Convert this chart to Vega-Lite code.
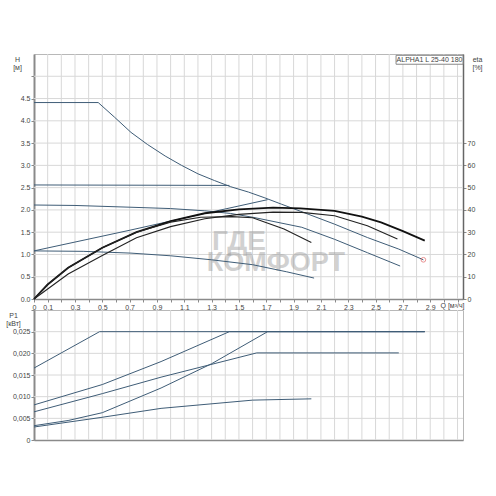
{
  "$schema": "https://vega.github.io/schema/vega-lite/v6.json",
  "padding": {"left": 5, "top": 53, "right": 0, "bottom": 0},
  "background": "white",
  "spacing": 11,
  "bounds": "flush",
  "config": {
    "view": {"stroke": "#b8b8b8"},
    "axis": {"grid": false, "labelOverlap": false, "labelFlush": false, "labelFont": "Liberation Sans", "labelFontSize": 7, "labelColor": "#444", "titleFont": "Liberation Sans", "titleFontSize": 7, "titleFontWeight": "normal", "titleColor": "#444", "domainColor": "#8a8a8a", "tickColor": "#8a8a8a", "tickSize": 3, "labelPadding": 1}
  },
  "datasets": {
    "gridQ": [{"Q": 0.1}, {"Q": 0.2}, {"Q": 0.3}, {"Q": 0.4}, {"Q": 0.5}, {"Q": 0.6}, {"Q": 0.7}, {"Q": 0.8}, {"Q": 0.9}, {"Q": 1.0}, {"Q": 1.1}, {"Q": 1.2}, {"Q": 1.3}, {"Q": 1.4}, {"Q": 1.5}, {"Q": 1.6}, {"Q": 1.7}, {"Q": 1.8}, {"Q": 1.9}, {"Q": 2.0}, {"Q": 2.1}, {"Q": 2.2}, {"Q": 2.3}, {"Q": 2.4}, {"Q": 2.5}, {"Q": 2.6}, {"Q": 2.7}, {"Q": 2.8}, {"Q": 2.9}, {"Q": 3.0}, {"Q": 3.1}],
    "gridH": [{"H": 0.5}, {"H": 1.0}, {"H": 1.5}, {"H": 2.0}, {"H": 2.5}, {"H": 3.0}, {"H": 3.5}, {"H": 4.0}, {"H": 4.5}, {"H": 5.0}],
    "gridP": [{"P": 0.005}, {"P": 0.01}, {"P": 0.015}, {"P": 0.02}, {"P": 0.025}],
    "H": [
      {"curve": "max", "Q": 0, "H": 4.41}, {"curve": "max", "Q": 0.47, "H": 4.41}, {"curve": "max", "Q": 0.59, "H": 4.08}, {"curve": "max", "Q": 0.71, "H": 3.74}, {"curve": "max", "Q": 0.83, "H": 3.47}, {"curve": "max", "Q": 0.96, "H": 3.21}, {"curve": "max", "Q": 1.08, "H": 3.0}, {"curve": "max", "Q": 1.2, "H": 2.81}, {"curve": "max", "Q": 1.32, "H": 2.66}, {"curve": "max", "Q": 1.44, "H": 2.52}, {"curve": "max", "Q": 1.57, "H": 2.4}, {"curve": "max", "Q": 1.69, "H": 2.27}, {"curve": "max", "Q": 1.81, "H": 2.13}, {"curve": "max", "Q": 1.95, "H": 1.97}, {"curve": "max", "Q": 2.2, "H": 1.68}, {"curve": "max", "Q": 2.44, "H": 1.38}, {"curve": "max", "Q": 2.67, "H": 1.12}, {"curve": "max", "Q": 2.85, "H": 0.88},
      {"curve": "cp", "Q": 0, "H": 2.56}, {"curve": "cp", "Q": 1.43, "H": 2.55},
      {"curve": "II", "Q": 0, "H": 2.11}, {"curve": "II", "Q": 0.3, "H": 2.1}, {"curve": "II", "Q": 0.71, "H": 2.06}, {"curve": "II", "Q": 1.0, "H": 2.03}, {"curve": "II", "Q": 1.25, "H": 1.98}, {"curve": "II", "Q": 1.44, "H": 1.92}, {"curve": "II", "Q": 1.61, "H": 1.83}, {"curve": "II", "Q": 1.96, "H": 1.61}, {"curve": "II", "Q": 2.2, "H": 1.34}, {"curve": "II", "Q": 2.44, "H": 1.04}, {"curve": "II", "Q": 2.68, "H": 0.74},
      {"curve": "pp", "Q": 0, "H": 1.08}, {"curve": "pp", "Q": 0.71, "H": 1.55}, {"curve": "pp", "Q": 1.22, "H": 1.9}, {"curve": "pp", "Q": 1.71, "H": 2.23},
      {"curve": "I", "Q": 0, "H": 1.08}, {"curve": "I", "Q": 0.36, "H": 1.07}, {"curve": "I", "Q": 0.71, "H": 1.03}, {"curve": "I", "Q": 1.0, "H": 0.97}, {"curve": "I", "Q": 1.3, "H": 0.88}, {"curve": "I", "Q": 1.6, "H": 0.77}, {"curve": "I", "Q": 1.85, "H": 0.61}, {"curve": "I", "Q": 2.05, "H": 0.47}
    ],
    "eta": [
      {"curve": "III", "Q": 0, "eta": 0}, {"curve": "III", "Q": 0.1, "eta": 6.5}, {"curve": "III", "Q": 0.25, "eta": 14}, {"curve": "III", "Q": 0.5, "eta": 23}, {"curve": "III", "Q": 0.75, "eta": 30}, {"curve": "III", "Q": 1.0, "eta": 35}, {"curve": "III", "Q": 1.25, "eta": 38.5}, {"curve": "III", "Q": 1.5, "eta": 40.2}, {"curve": "III", "Q": 1.75, "eta": 41}, {"curve": "III", "Q": 1.95, "eta": 40.7}, {"curve": "III", "Q": 2.2, "eta": 39.6}, {"curve": "III", "Q": 2.4, "eta": 37}, {"curve": "III", "Q": 2.54, "eta": 34.4}, {"curve": "III", "Q": 2.7, "eta": 30.5}, {"curve": "III", "Q": 2.86, "eta": 26.2},
      {"curve": "II", "Q": 0, "eta": 0}, {"curve": "II", "Q": 0.1, "eta": 4.5}, {"curve": "II", "Q": 0.25, "eta": 11.2}, {"curve": "II", "Q": 0.5, "eta": 19.5}, {"curve": "II", "Q": 0.75, "eta": 27.5}, {"curve": "II", "Q": 1.0, "eta": 32.5}, {"curve": "II", "Q": 1.25, "eta": 36}, {"curve": "II", "Q": 1.5, "eta": 38}, {"curve": "II", "Q": 1.75, "eta": 39}, {"curve": "II", "Q": 1.96, "eta": 38.9}, {"curve": "II", "Q": 2.2, "eta": 37.4}, {"curve": "II", "Q": 2.44, "eta": 32.9}, {"curve": "II", "Q": 2.66, "eta": 26.9},
      {"curve": "I", "Q": 0, "eta": 0}, {"curve": "I", "Q": 0.1, "eta": 6.5}, {"curve": "I", "Q": 0.25, "eta": 14}, {"curve": "I", "Q": 0.5, "eta": 23}, {"curve": "I", "Q": 0.75, "eta": 30}, {"curve": "I", "Q": 1.0, "eta": 34.5}, {"curve": "I", "Q": 1.22, "eta": 36.7}, {"curve": "I", "Q": 1.45, "eta": 37}, {"curve": "I", "Q": 1.6, "eta": 36.5}, {"curve": "I", "Q": 1.83, "eta": 31.4}, {"curve": "I", "Q": 2.03, "eta": 25.4}
    ],
    "P1": [
      {"curve": "max", "Q": 0, "P": 0.0166}, {"curve": "max", "Q": 0.48, "P": 0.025}, {"curve": "max", "Q": 2.86, "P": 0.025},
      {"curve": "cp", "Q": 0, "P": 0.0081}, {"curve": "cp", "Q": 0.5, "P": 0.0128}, {"curve": "cp", "Q": 0.93, "P": 0.0181}, {"curve": "cp", "Q": 1.43, "P": 0.025}, {"curve": "cp", "Q": 2.86, "P": 0.025},
      {"curve": "II", "Q": 0, "P": 0.0065}, {"curve": "II", "Q": 0.5, "P": 0.0107}, {"curve": "II", "Q": 0.93, "P": 0.0145}, {"curve": "II", "Q": 1.63, "P": 0.0201}, {"curve": "II", "Q": 2.67, "P": 0.0201},
      {"curve": "pp", "Q": 0, "P": 0.0033}, {"curve": "pp", "Q": 0.25, "P": 0.0045}, {"curve": "pp", "Q": 0.5, "P": 0.0063}, {"curve": "pp", "Q": 0.93, "P": 0.012}, {"curve": "pp", "Q": 1.3, "P": 0.0176}, {"curve": "pp", "Q": 1.71, "P": 0.025}, {"curve": "pp", "Q": 2.86, "P": 0.025},
      {"curve": "I", "Q": 0, "P": 0.003}, {"curve": "I", "Q": 0.49, "P": 0.0052}, {"curve": "I", "Q": 0.93, "P": 0.0073}, {"curve": "I", "Q": 1.6, "P": 0.0092}, {"curve": "I", "Q": 2.03, "P": 0.0095}
    ],
    "marker": [{"Q": 2.85, "H": 0.88}],
    "label": [{"text": "ALPHA1 L 25-40 180"}],
    "wm": [{"t1": "ГДЕ", "t2": "КОМФОРТ"}]
  },
  "vconcat": [
    {
      "width": 429,
      "height": 245,
      "layer": [
        {
          "layer": [
            {
              "data": {"name": "gridQ"},
              "mark": {"type": "rule", "color": "#d8d8d8", "strokeWidth": 1},
              "encoding": {"x": {"field": "Q", "type": "quantitative"}}
            },
            {
              "data": {"name": "gridH"},
              "mark": {"type": "rule", "color": "#d8d8d8", "strokeWidth": 1},
              "encoding": {"y": {"field": "H", "type": "quantitative"}}
            },
            {
              "data": {"name": "wm"},
              "mark": {"type": "text", "font": "Liberation Sans", "fontWeight": "bold", "fontSize": 28, "color": "#9a9a9a", "opacity": 0.45, "baseline": "middle", "align": "center"},
              "encoding": {"text": {"field": "t1"}, "x": {"datum": 1.5}, "y": {"datum": 1.27}}
            },
            {
              "data": {"name": "wm"},
              "mark": {"type": "text", "font": "Liberation Sans", "fontWeight": "bold", "fontSize": 27, "color": "#9a9a9a", "opacity": 0.45, "baseline": "middle", "align": "center"},
              "encoding": {"text": {"field": "t2"}, "x": {"datum": 1.77}, "y": {"datum": 0.8}}
            },
            {
              "data": {"name": "H"},
              "mark": {"type": "line", "strokeWidth": 1, "color": "#3f5d77"},
              "encoding": {
                "x": {"field": "Q", "type": "quantitative", "scale": {"domain": [0, 3.14], "nice": false, "zero": false},
                  "axis": {"title": "Q [м³/ч]", "titleX": 418, "titleY": 2, "titleBaseline": "top", "titleAnchor": null, "titleAlign": "center", "tickCount": 32,
                    "values": [0,0.1,0.2,0.3,0.4,0.5,0.6,0.7,0.8,0.9,1.0,1.1,1.2,1.3,1.4,1.5,1.6,1.7,1.8,1.9,2.0,2.1,2.2,2.3,2.4,2.5,2.6,2.7,2.8,2.9,3.0,3.1],
                    "labelExpr": "datum.value == 0 ? '0' : ((round(datum.value*10) % 2 == 1 && datum.value < 3) ? format(datum.value, '.1f') : '')",
                    "domainWidth": 1.5, "labelBaseline": "top", "labelPadding": 1}},
                "y": {"field": "H", "type": "quantitative", "scale": {"domain": [0, 5.5], "nice": false},
                  "axis": {"title": ["H", "[м]"], "titleAngle": 0, "titleX": -17, "titleY": 1, "titleBaseline": "top", "titleAlign": "center", "titleLineHeight": 8, "tickCount": 11,
                    "values": [0,0.5,1,1.5,2,2.5,3,3.5,4,4.5,5],
                    "labelExpr": "datum.value >= 5 ? '' : format(datum.value, '.1f')", "domainWidth": 2}},
                "detail": {"field": "curve"}
              }
            },
            {
              "data": {"name": "marker"},
              "mark": {"type": "point", "shape": "circle", "filled": false, "color": "#e06666", "size": 22, "strokeWidth": 1},
              "encoding": {"x": {"field": "Q", "type": "quantitative"}, "y": {"field": "H", "type": "quantitative"}}
            },
            {
              "data": {"name": "label"},
              "mark": {"type": "rect", "fill": "white", "stroke": "#888", "strokeWidth": 1},
              "encoding": {"x": {"datum": 2.65}, "x2": {"datum": 3.14}, "y": {"datum": 5.47}, "y2": {"datum": 5.27}}
            },
            {
              "data": {"name": "label"},
              "mark": {"type": "text", "font": "Liberation Sans", "fontSize": 7, "color": "#444", "baseline": "middle", "align": "center"},
              "encoding": {"text": {"field": "text"}, "x": {"datum": 2.895}, "y": {"datum": 5.37}}
            }
          ]
        },
        {
          "layer": [
            {
              "data": {"name": "eta"},
              "transform": [{"filter": "datum.curve == 'III'"}],
              "mark": {"type": "line", "strokeWidth": 1.8, "color": "#111"},
              "encoding": {
                "x": {"field": "Q", "type": "quantitative"},
                "y": {"field": "eta", "type": "quantitative", "scale": {"domain": [0, 110], "nice": false},
                  "axis": {"orient": "right", "grid": false, "title": ["eta", "[%]"], "titleAngle": 0, "titleX": 14, "titleY": 1, "titleBaseline": "top", "titleAlign": "center", "titleLineHeight": 8, "tickCount": 8,
                    "values": [0,10,20,30,40,50,60,70], "domainWidth": 1.5, "domainColor": "#666"}},
                "detail": {"field": "curve"}
              }
            },
            {
              "data": {"name": "eta"},
              "transform": [{"filter": "datum.curve != 'III'"}],
              "mark": {"type": "line", "strokeWidth": 1.1, "color": "#222"},
              "encoding": {
                "x": {"field": "Q", "type": "quantitative"},
                "y": {"field": "eta", "type": "quantitative"},
                "detail": {"field": "curve"}
              }
            }
          ]
        }
      ],
      "resolve": {"scale": {"y": "independent"}, "axis": {"y": "independent"}}
    },
    {
      "width": 429,
      "height": 130,
      "layer": [
        {
          "data": {"name": "gridQ"},
          "mark": {"type": "rule", "color": "#d8d8d8", "strokeWidth": 1},
          "encoding": {"x": {"field": "Q", "type": "quantitative"}}
        },
        {
          "data": {"name": "gridP"},
          "mark": {"type": "rule", "color": "#d8d8d8", "strokeWidth": 1},
          "encoding": {"y": {"field": "P", "type": "quantitative"}}
        },
        {
          "data": {"name": "P1"},
          "mark": {"type": "line", "strokeWidth": 1, "color": "#3f5d77"},
          "encoding": {
            "x": {"field": "Q", "type": "quantitative", "scale": {"domain": [0, 3.14], "nice": false},
              "axis": {"title": null, "labels": false, "ticks": false, "domainWidth": 1.5}},
            "y": {"field": "P", "type": "quantitative", "scale": {"domain": [0, 0.03], "nice": false},
              "axis": {"title": ["P1", "[кВт]"], "titleAngle": 0, "titleX": -21, "titleY": 1, "titleBaseline": "top", "titleAlign": "center", "titleLineHeight": 8, "tickCount": 7,
                "values": [0,0.005,0.01,0.015,0.02,0.025,0.03],
                "labelExpr": "datum.value == 0 ? '0' : (datum.value > 0.028 ? '' : replace(format(datum.value, '.3f'), '.', ','))", "domainWidth": 2}},
            "detail": {"field": "curve"}
          }
        }
      ]
    }
  ]
}
